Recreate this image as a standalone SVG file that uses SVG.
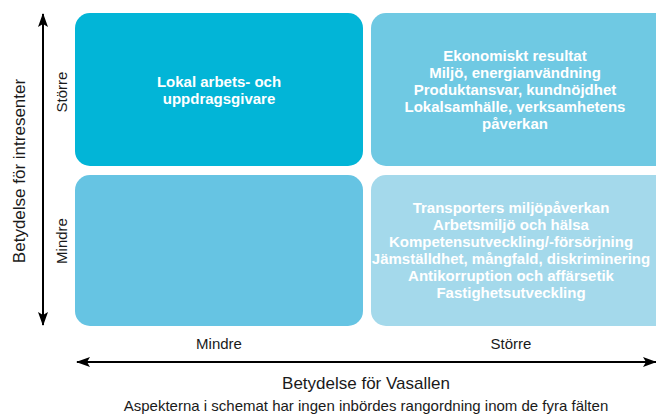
<svg xmlns="http://www.w3.org/2000/svg" width="656" height="414" viewBox="0 0 656 414">
<style>
.box text{font-family:"Liberation Sans",Arial,sans-serif;font-weight:bold;font-size:15px;fill:#fff;text-anchor:middle}
.lbl{font-family:"Liberation Sans",Arial,sans-serif;font-size:15px;fill:#1a1a1a;text-anchor:middle}
.big{font-size:17px}
.ax{stroke:#000;stroke-width:2;fill:none}
</style>
<defs>
<marker id="ah" viewBox="0 0 14 10" refX="13" refY="5" markerWidth="14" markerHeight="10" markerUnits="userSpaceOnUse" orient="auto-start-reverse">
<path d="M0,0 L14,5 L0,10 L3,5 Z" fill="#000"/>
</marker>
</defs>
<rect width="656" height="414" fill="#fff"/>
<g id="q-top-left" class="box">
<rect x="75" y="13" width="288" height="153" rx="15" fill="#02b5d7"/>
<text x="219" y="87">Lokal arbets- och</text>
<text x="219" y="104">uppdragsgivare</text>
</g>
<g id="q-top-right" class="box">
<rect x="371" y="13" width="300" height="153" rx="15" fill="#6fc9e3"/>
<text x="515" y="61">Ekonomiskt resultat</text>
<text x="515" y="78">Miljö, energianvändning</text>
<text x="515" y="95">Produktansvar, kundnöjdhet</text>
<text x="515" y="112">Lokalsamhälle, verksamhetens</text>
<text x="515" y="129">påverkan</text>
</g>
<g id="q-bottom-left" class="box">
<rect x="75" y="175" width="288" height="151" rx="15" fill="#66c4e3"/>
</g>
<g id="q-bottom-right" class="box">
<rect x="371" y="175" width="300" height="151" rx="15" fill="#a4d9eb"/>
<text x="511" y="213">Transporters miljöpåverkan</text>
<text x="511" y="230">Arbetsmiljö och hälsa</text>
<text x="511" y="247">Kompetensutveckling/-försörjning</text>
<text x="511" y="264">Jämställdhet, mångfald, diskriminering</text>
<text x="511" y="281">Antikorruption och affärsetik</text>
<text x="511" y="298">Fastighetsutveckling</text>
</g>
<g id="connectors">
<line class="ax" x1="43" y1="14" x2="43" y2="325" marker-start="url(#ah)" marker-end="url(#ah)"/>
<line class="ax" x1="77" y1="362" x2="656" y2="362" marker-start="url(#ah)" marker-end="url(#ah)"/>
</g>
<g id="labels">
<text class="lbl big" transform="translate(25,171) rotate(-90)">Betydelse för intresenter</text>
<text class="lbl" transform="translate(67,92) rotate(-90)">Större</text>
<text class="lbl" transform="translate(67,241) rotate(-90)">Mindre</text>
<text class="lbl" x="219" y="349">Mindre</text>
<text class="lbl" x="511" y="349">Större</text>
<text class="lbl big" x="366" y="389">Betydelse för Vasallen</text>
<text class="lbl" x="366" y="411">Aspekterna i schemat har ingen inbördes rangordning inom de fyra fälten</text>
</g>
</svg>
